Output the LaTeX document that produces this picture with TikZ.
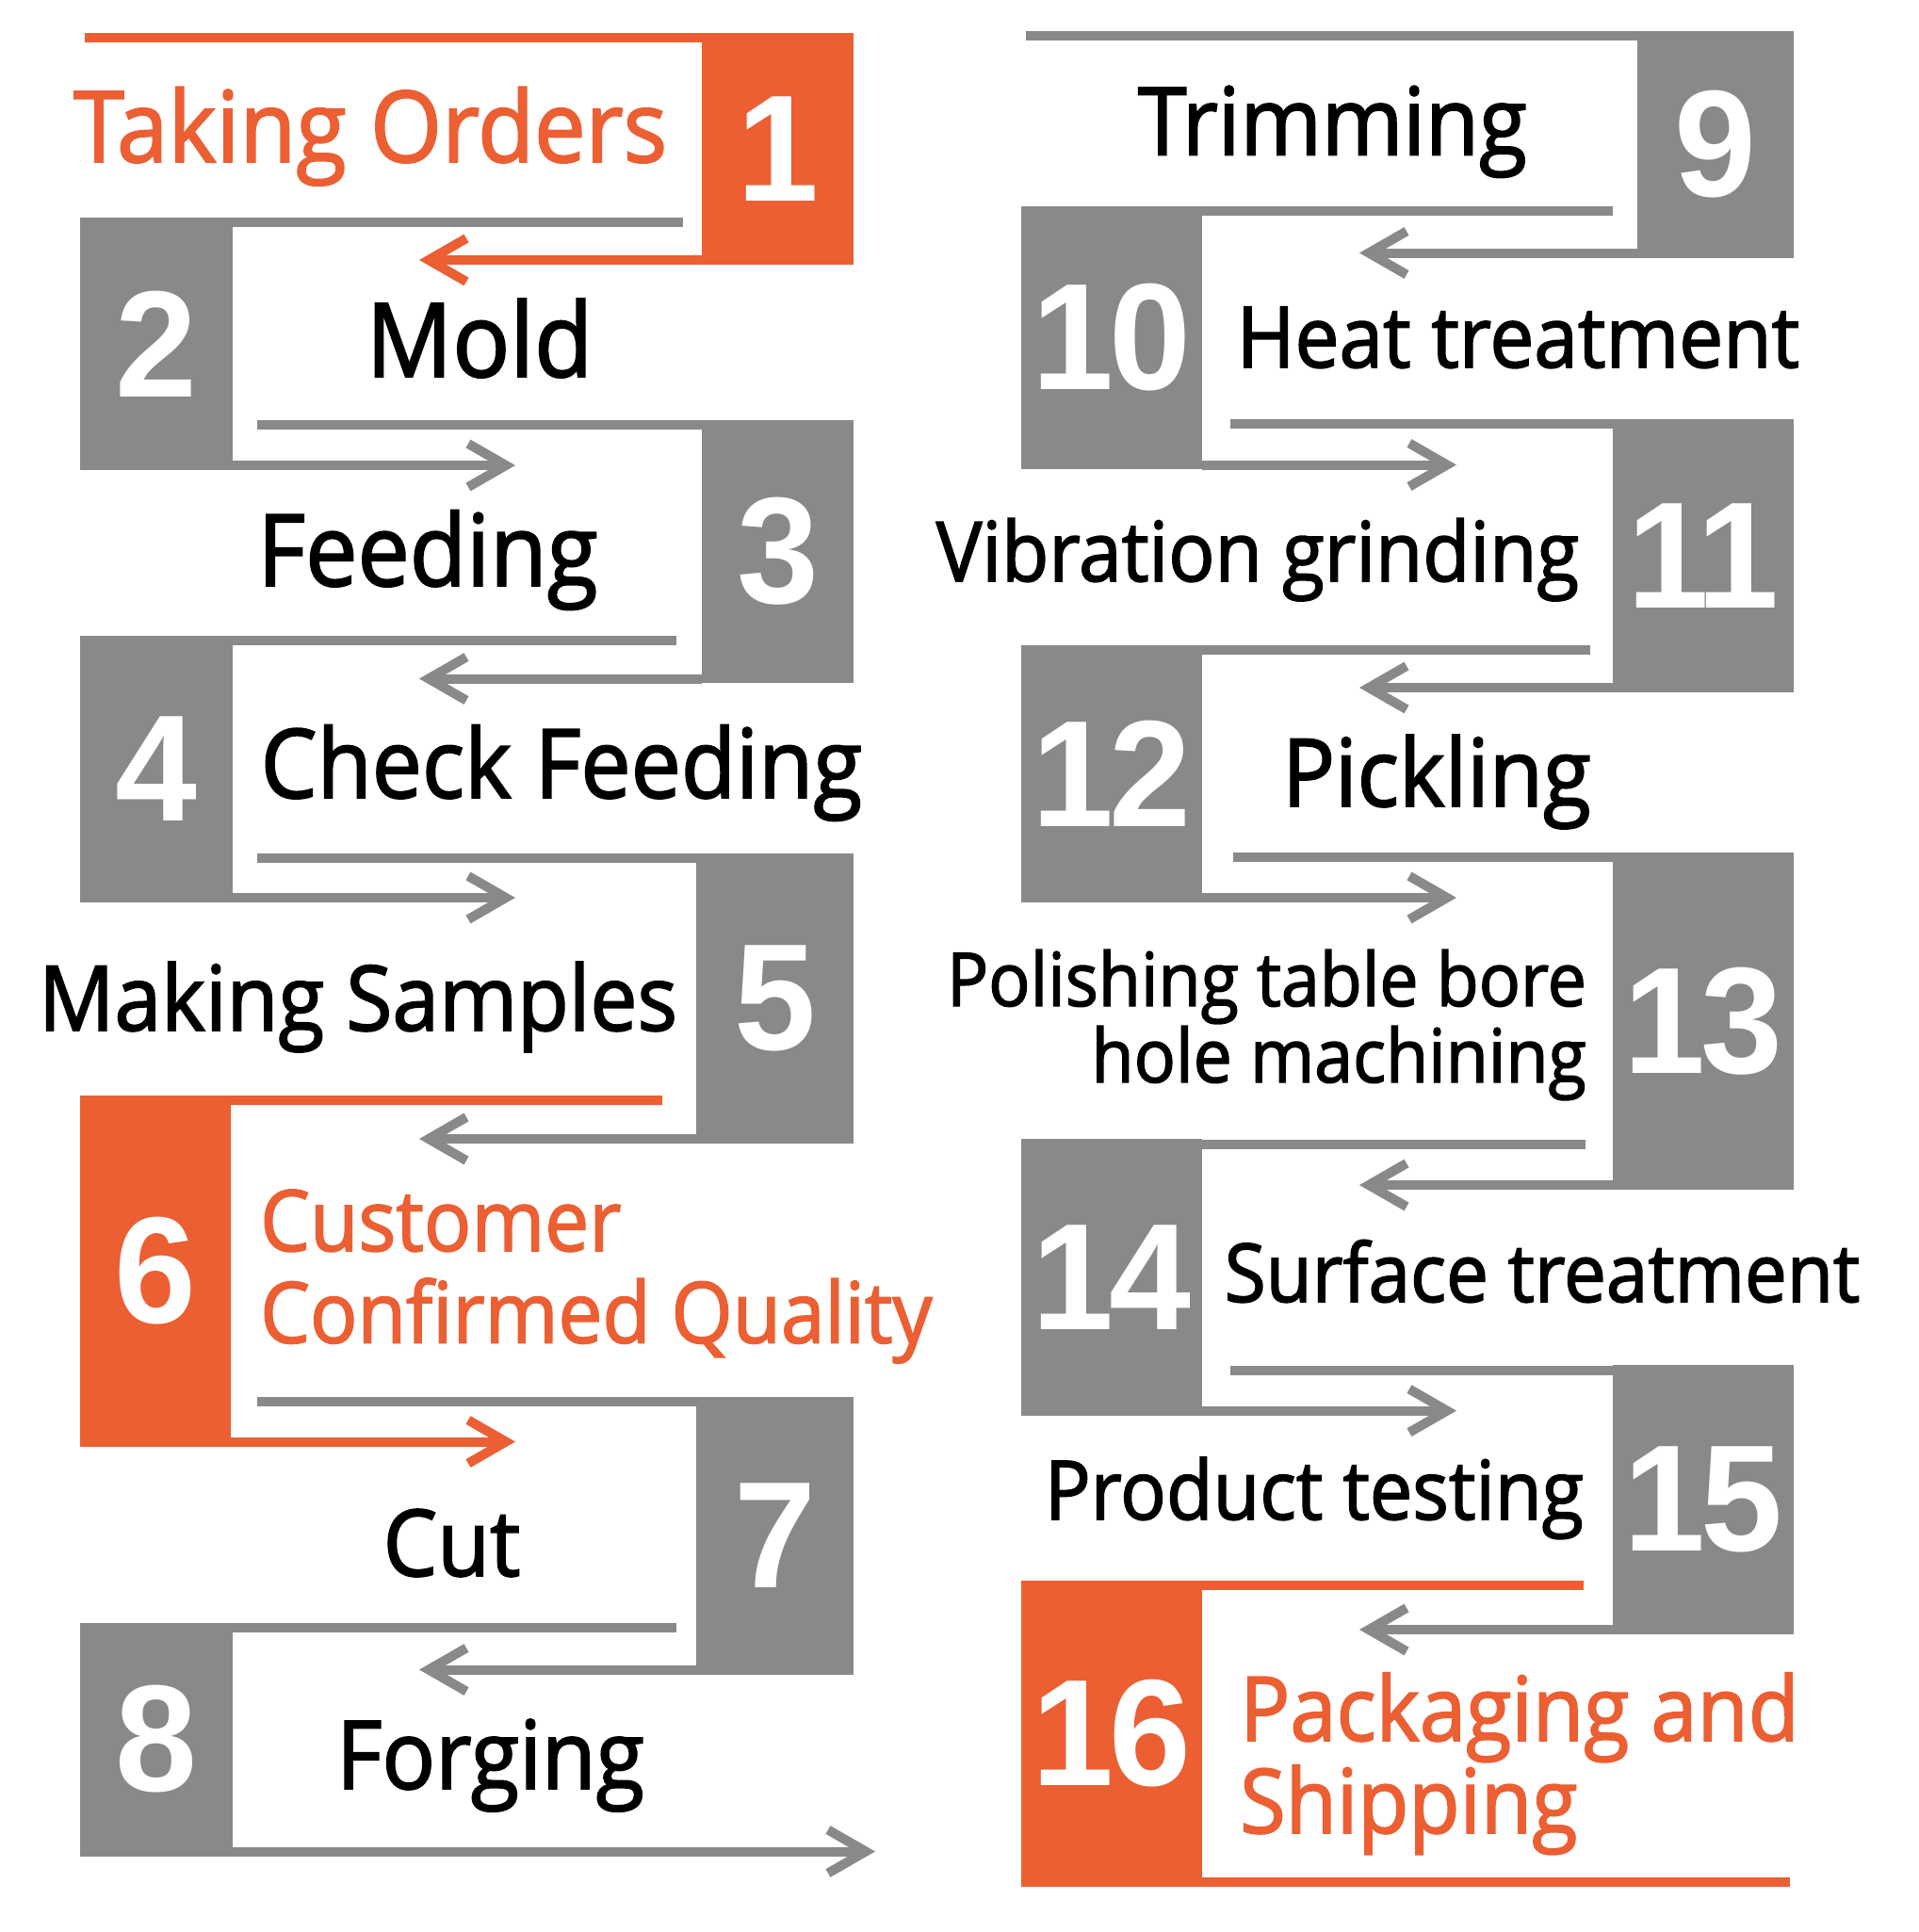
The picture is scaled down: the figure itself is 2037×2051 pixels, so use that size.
\documentclass[tikz,border=0pt]{standalone}
\usepackage{fontspec}
\setmainfont{Open Sans}[FakeStretch=0.93, FakeBold=1.8]
\newfontfamily\numfont{Liberation Sans}[FakeStretch=0.97, LetterSpace=-3]
\usepackage{xcolor}
\usetikzlibrary{arrows.meta}
\definecolor{stepgray}{RGB}{137,137,137}
\definecolor{steporange}{RGB}{235,95,51}
\newcommand{\stepfont}[2]{\fontsize{#1}{#2}\selectfont}

\begin{document}
\begin{tikzpicture}[x=1pt, y=-1pt,
    numbox/.style={fill=stepgray, inner sep=0pt, text=white, font=\numfont\bfseries\fontsize{161}{161}\selectfont},
    bar/.style={draw=stepgray, line width=10pt},
    flow/.style={bar, -{Straight Barb[length=40pt, width=46pt]}},
    steptext/.style={anchor=base, inner sep=0pt}]
    \useasboundingbox (0,0) rectangle (2037,2051);

    % left column
    \node[numbox, fill=steporange, minimum width=161pt, minimum height=246pt] (s1) at (825.5,158) {1};
    \coordinate (t1) at (90,40);
    \coordinate (a1) at (445,276);
    \draw[bar, draw=steporange] (t1) -- (t1 -| s1.west);
    \draw[flow, draw=steporange] (a1 -| s1.west) -- (a1);
    \node[steptext, text=steporange, font=\stepfont{105}{110}] (l1) at (393,172) {Taking Orders};

    \node[numbox, minimum width=162pt, minimum height=268pt] (s2) at (166,365) {2};
    \coordinate (t2) at (725,236);
    \coordinate (a2) at (547,494);
    \draw[bar] (t2 -| s2.east) -- (t2);
    \draw[flow] (a2 -| s2.east) -- (a2);
    \node[steptext, font=\stepfont{109}{115}] (l2) at (509,400) {Mold};

    \node[numbox, minimum width=161pt, minimum height=279pt] (s3) at (825.5,585.5) {3};
    \coordinate (t3) at (273,450.5);
    \coordinate (a3) at (445,720.5);
    \draw[bar] (t3) -- (t3 -| s3.west);
    \draw[flow] (a3 -| s3.west) -- (a3);
    \node[steptext, font=\stepfont{106}{110}] (l3) at (454,622) {Feeding};

    \node[numbox, minimum width=162pt, minimum height=283pt] (s4) at (166,816.5) {4};
    \coordinate (t4) at (718,680);
    \coordinate (a4) at (547,953);
    \draw[bar] (t4 -| s4.east) -- (t4);
    \draw[flow] (a4 -| s4.east) -- (a4);
    \node[steptext, font=\stepfont{102}{108}] (l4) at (596,847) {Check Feeding};

    \node[numbox, minimum width=167pt, minimum height=308pt] (s5) at (822.5,1060) {5};
    \coordinate (t5) at (273,911);
    \coordinate (a5) at (445,1209);
    \draw[bar] (t5) -- (t5 -| s5.west);
    \draw[flow] (a5 -| s5.west) -- (a5);
    \node[steptext, font=\stepfont{96}{100}] (l5) at (380,1094) {Making Samples};

    \node[numbox, fill=steporange, minimum width=160pt, minimum height=372.5pt] (s6) at (165,1349.25) {6};
    \coordinate (t6) at (703,1168);
    \coordinate (a6) at (547,1530.5);
    \draw[bar, draw=steporange] (t6 -| s6.east) -- (t6);
    \draw[flow, draw=steporange] (a6 -| s6.east) -- (a6);
    \node[steptext, anchor=base west, align=left, text=steporange, font=\stepfont{90}{97.6}] (l6) at (276,1425.6) {Customer\\Confirmed Quality};

    \node[numbox, minimum width=167pt, minimum height=295pt] (s7) at (822.5,1630) {7};
    \coordinate (t7) at (273,1487.6);
    \coordinate (a7) at (445,1772.5);
    \draw[bar] (t7) -- (t7 -| s7.west);
    \draw[flow] (a7 -| s7.west) -- (a7);
    \node[steptext, font=\stepfont{98}{104}] (l7) at (479.5,1673) {Cut};

    \node[numbox, minimum width=162pt, minimum height=248pt] (s8) at (166,1846.5) {8};
    \coordinate (t8) at (718,1727.5);
    \coordinate (a8) at (929,1965.5);
    \draw[bar] (t8 -| s8.east) -- (t8);
    \draw[flow] (a8 -| s8.east) -- (a8);
    \node[steptext, font=\stepfont{101}{104}] (l8) at (520.5,1899) {Forging};

    % right column
    \node[numbox, minimum width=166pt, minimum height=241pt] (s9) at (1821,153.5) {9};
    \coordinate (t9) at (1089,38);
    \coordinate (a9) at (1443,268.5);
    \draw[bar] (t9) -- (t9 -| s9.west);
    \draw[flow] (a9 -| s9.west) -- (a9);
    \node[steptext, font=\stepfont{100}{104}] (l9) at (1414.5,164.5) {Trimming};

    \node[numbox, minimum width=192pt, minimum height=279pt] (s10) at (1180,358.5) {10};
    \coordinate (t10) at (1712,223.5);
    \coordinate (a10) at (1546,493.5);
    \draw[bar] (t10 -| s10.east) -- (t10);
    \draw[flow] (a10 -| s10.east) -- (a10);
    \node[steptext, font=\stepfont{90}{96}] (l10) at (1611.5,390) {Heat treatment};

    \node[numbox, minimum width=192pt, minimum height=290pt] (s11) at (1808,590) {11};
    \coordinate (t11) at (1306,450);
    \coordinate (a11) at (1443,730);
    \draw[bar] (t11) -- (t11 -| s11.west);
    \draw[flow] (a11 -| s11.west) -- (a11);
    \node[steptext, font=\stepfont{88}{94}] (l11) at (1335,617) {Vibration grinding};

    \node[numbox, minimum width=192pt, minimum height=273pt] (s12) at (1180,821.5) {12};
    \coordinate (t12) at (1688,689.5);
    \coordinate (a12) at (1546,953);
    \draw[bar] (t12 -| s12.east) -- (t12);
    \draw[flow] (a12 -| s12.east) -- (a12);
    \node[steptext, font=\stepfont{100}{104}] (l12) at (1525,856) {Pickling};

    \node[numbox, minimum width=192pt, minimum height=358pt] (s13) at (1808,1084) {13};
    \coordinate (t13) at (1309,910);
    \coordinate (a13) at (1443,1258);
    \draw[bar] (t13) -- (t13 -| s13.west);
    \draw[flow] (a13 -| s13.west) -- (a13);
    \node[steptext, anchor=base east, align=right, font=\stepfont{79}{81}] (l13) at (1684,1149) {Polishing table bore\\hole machining};

    \node[numbox, minimum width=192pt, minimum height=294pt] (s14) at (1180,1356) {14};
    \coordinate (t14) at (1682.5,1214.6);
    \coordinate (a14) at (1546,1497.6);
    \draw[bar] (t14 -| s14.east) -- (t14);
    \draw[flow] (a14 -| s14.east) -- (a14);
    \node[steptext, font=\stepfont{86}{92}] (l14) at (1637,1382) {Surface treatment};

    \node[numbox, minimum width=192pt, minimum height=286pt] (s15) at (1808,1592) {15};
    \coordinate (t15) at (1306,1454.6);
    \coordinate (a15) at (1443,1730);
    \draw[bar] (t15) -- (t15 -| s15.west);
    \draw[flow] (a15 -| s15.west) -- (a15);
    \node[steptext, font=\stepfont{87}{92}] (l15) at (1395,1613) {Product testing};

    \node[numbox, fill=steporange, minimum width=192pt, minimum height=325pt] (s16) at (1180,1840) {16};
    \coordinate (t16) at (1681,1682.6);
    \coordinate (e16) at (1900,1997.6);
    \draw[bar, draw=steporange] (t16 -| s16.east) -- (t16);
    \draw[bar, draw=steporange] (e16 -| s16.east) -- (e16);
    \node[steptext, anchor=base west, align=left, text=steporange, font=\stepfont{95}{98}] (l16) at (1316,1946) {Packaging and\\Shipping};
\end{tikzpicture}
\end{document}
